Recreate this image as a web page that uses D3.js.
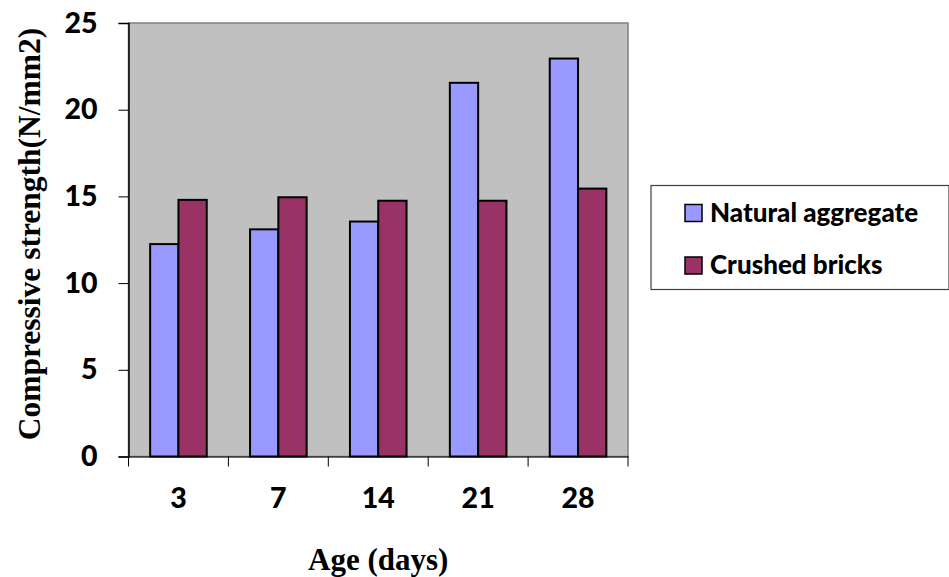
<!DOCTYPE html>
<html>
<head>
<meta charset="utf-8">
<script src="https://cdn.jsdelivr.net/npm/d3@7"></script>
<style>
  html, body { margin: 0; padding: 0; background: #fff; }
  svg { display: block; }
</style>
</head>
<body>
<div id="chart"></div>
<script>
// data
const ages = ["3", "7", "14", "21", "28"];
const seriesNames = ["Natural aggregate", "Crushed bricks"];
const naturalAggregate = [12.25, 13.1, 13.55, 21.55, 22.95];
const crushedBricks = [14.8, 14.95, 14.75, 14.75, 15.45];
const yTicks = [0, 5, 10, 15, 20, 25];
const seriesColors = ["#9999ff", "#993366"];

const width = 949, height = 577;
const plot = { left: 128.5, right: 628, top: 23, bottom: 456.5 };
const tickFont = "Lato, 'Open Sans', sans-serif";

const svg = d3.select("#chart").append("svg")
  .attr("width", width).attr("height", height);

const x0 = d3.scaleBand().domain(ages).range([plot.left, plot.right]).padding(0);
const x1 = d3.scaleBand().domain(seriesNames).range([0, x0.bandwidth()])
  .paddingInner(0).paddingOuter(0.765);
const y = d3.scaleLinear().domain([0, 25]).range([plot.bottom, plot.top]);

// plot background
svg.append("rect")
  .attr("x", plot.left).attr("y", plot.top)
  .attr("width", plot.right - plot.left).attr("height", plot.bottom - plot.top)
  .attr("fill", "#c0c0c0")
  .attr("stroke", "#808080").attr("stroke-width", 1.5);

// bars
const rows = ages.map((a, i) => ({ age: a, values: [naturalAggregate[i], crushedBricks[i]] }));
const groups = svg.selectAll(".grp").data(rows).enter().append("g")
  .attr("transform", d => `translate(${x0(d.age)},0)`);
groups.selectAll("rect")
  .data(d => d.values.map((v, j) => ({ name: seriesNames[j], value: v, c: seriesColors[j] })))
  .enter().append("rect")
  .attr("x", d => x1(d.name))
  .attr("width", x1.bandwidth())
  .attr("y", d => y(d.value))
  .attr("height", d => y(0) - y(d.value))
  .attr("fill", d => d.c)
  .attr("stroke", "#000").attr("stroke-width", 2);

// y axis
const yAxis = svg.append("g").attr("transform", `translate(${plot.left},0)`)
  .call(d3.axisLeft(y).tickValues(yTicks).tickSize(10).tickPadding(21));
yAxis.select(".domain").attr("stroke", "#000").attr("stroke-width", 1.5);
yAxis.selectAll(".tick line").attr("stroke", "#000");
yAxis.selectAll("text")
  .attr("font-family", tickFont).attr("font-weight", 900)
  .attr("font-size", 28.5).attr("fill", "#000");

// x axis: ticks sit on category boundaries
const xAxis = svg.append("g").attr("transform", `translate(0,${plot.bottom})`)
  .call(d3.axisBottom(x0).tickSize(0).tickPadding(31));
xAxis.select(".domain").attr("stroke", "#000").attr("stroke-width", 1);
xAxis.selectAll("text")
  .attr("font-family", tickFont).attr("font-weight", 900)
  .attr("font-size", 28.5).attr("fill", "#000");
const bounds = ages.map(a => x0(a)).concat([plot.right]);
xAxis.selectAll(".bnd").data(bounds).enter().append("line")
  .attr("x1", d => d).attr("x2", d => d)
  .attr("y1", 0).attr("y2", 10)
  .attr("stroke", "#000");

// axis titles
svg.append("text")
  .attr("transform", `translate(40,234) rotate(-90)`)
  .attr("text-anchor", "middle")
  .attr("font-family", "'Liberation Serif', 'Times New Roman', serif")
  .attr("font-weight", "bold").attr("font-size", 31.5)
  .text("Compressive strength(N/mm2)");

svg.append("text")
  .attr("x", (plot.left + plot.right) / 2).attr("y", 570)
  .attr("text-anchor", "middle")
  .attr("font-family", "'Liberation Serif', 'Times New Roman', serif")
  .attr("font-weight", "bold").attr("font-size", 31)
  .text("Age (days)");

// legend
const legend = svg.append("g");
legend.append("rect")
  .attr("x", 651).attr("y", 185.5).attr("width", 298).attr("height", 104)
  .attr("fill", "#fff").attr("stroke", "#404040").attr("stroke-width", 1.2);
const items = legend.selectAll(".item").data(seriesNames).enter().append("g")
  .attr("transform", (d, i) => `translate(685,${204.5 + i * 52.5})`);
items.append("rect")
  .attr("width", 17).attr("height", 17)
  .attr("fill", (d, i) => seriesColors[i])
  .attr("stroke", "#000").attr("stroke-width", 1.5);
items.append("text")
  .attr("x", 25).attr("y", 17)
  .attr("font-family", tickFont).attr("font-weight", 900)
  .attr("font-size", 26).attr("fill", "#000")
  .text(d => d);
</script>
</body>
</html>
